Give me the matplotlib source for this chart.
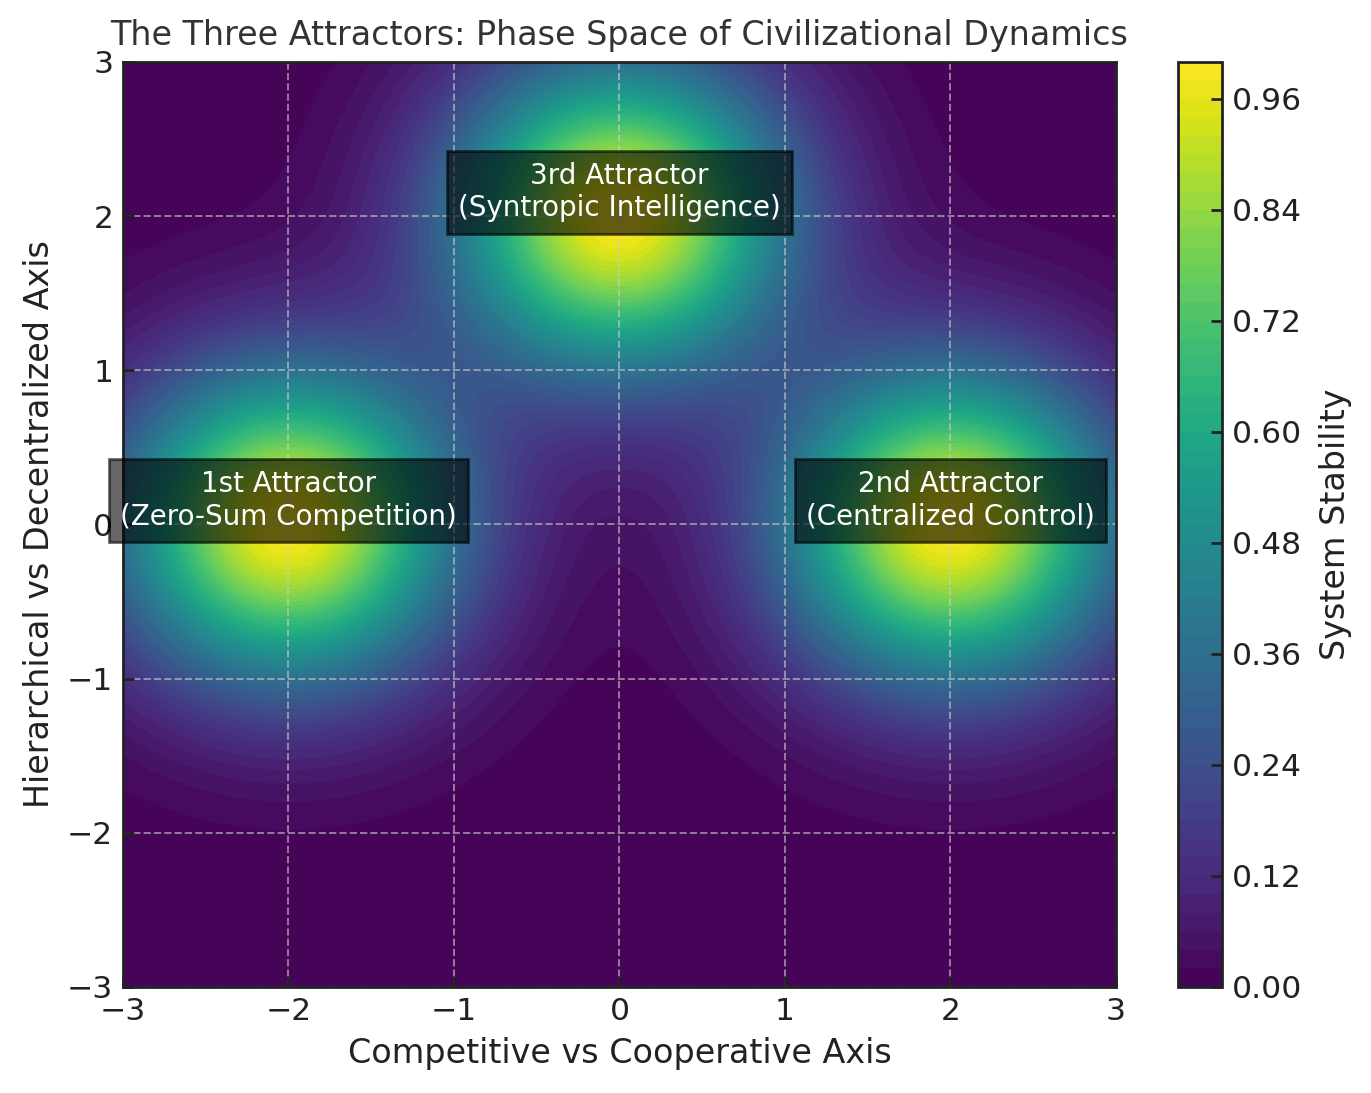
import numpy as np
import matplotlib
matplotlib.use("Agg")
import matplotlib.pyplot as plt

# Attractor definitions
attractor_names = ["1st Attractor\n(Zero-Sum Competition)",
                   "2nd Attractor\n(Centralized Control)",
                   "3rd Attractor\n(Syntropic Intelligence)"]
attractor_x = [-2.0, 2.0, 0.0]
attractor_y = [0.0, 0.0, 2.0]
attractor_amp = [1.0, 1.0, 1.0]

axis_ticks = [-3, -2, -1, 0, 1, 2, 3]
cbar_ticks = [0.00, 0.12, 0.24, 0.36, 0.48, 0.60, 0.72, 0.84, 0.96]

plt.rcParams['font.family'] = ['DejaVu Sans']

fig = plt.figure(figsize=(6.855, 5.465), dpi=200)
ax = fig.add_axes([0.0897, 0.0970, 0.7243, 0.8463])
cax = fig.add_axes([0.8592, 0.0970, 0.0321, 0.8463])

x = np.linspace(-3, 3, 400)
y = np.linspace(-3, 3, 400)
X, Y = np.meshgrid(x, y)
Z = np.zeros_like(X)
for cx, cy, a in zip(attractor_x, attractor_y, attractor_amp):
    Z += a * np.exp(-((X - cx) ** 2 + (Y - cy) ** 2))
Z = np.minimum(Z, 0.9999)

levels = np.linspace(0, 1, 51)
cf = ax.contourf(X, Y, Z, levels=levels, cmap='viridis')

ax.set_xlim(-3, 3)
ax.set_ylim(-3, 3)
ax.set_xticks(axis_ticks)
ax.set_yticks(axis_ticks)
ax.grid(True, linestyle='--', color='#cccccc', alpha=0.6, linewidth=0.7)
ax.tick_params(direction='in', length=4, width=1, labelsize=11.3, colors='#222222')
for s in ax.spines.values():
    s.set_color('#222222')
    s.set_linewidth(1.0)

ax.set_title("The Three Attractors: Phase Space of Civilizational Dynamics",
             fontsize=12.0, color='#333333', pad=6)
ax.set_xlabel("Competitive vs Cooperative Axis", fontsize=12.0, color='#222222', labelpad=4)
ax.set_ylabel("Hierarchical vs Decentralized Axis", fontsize=12.0, color='#222222', labelpad=4)

for name, cx, cy in zip(attractor_names, attractor_x, attractor_y):
    ax.text(cx, cy + 0.155, name, ha='center', va='center', color='white',
            fontsize=10.0, bbox=dict(facecolor='black', alpha=0.6, edgecolor='black'))

cb = fig.colorbar(cf, cax=cax, ticks=cbar_ticks, format='%.2f')
cb.set_label("System Stability", fontsize=12.0, color='#222222', labelpad=6)
cb.ax.tick_params(direction='in', length=4, width=1, labelsize=11.3, colors='#222222')
cb.outline.set_edgecolor('#222222')
cb.outline.set_linewidth(1.0)

fig.savefig("out.png", dpi=200)
